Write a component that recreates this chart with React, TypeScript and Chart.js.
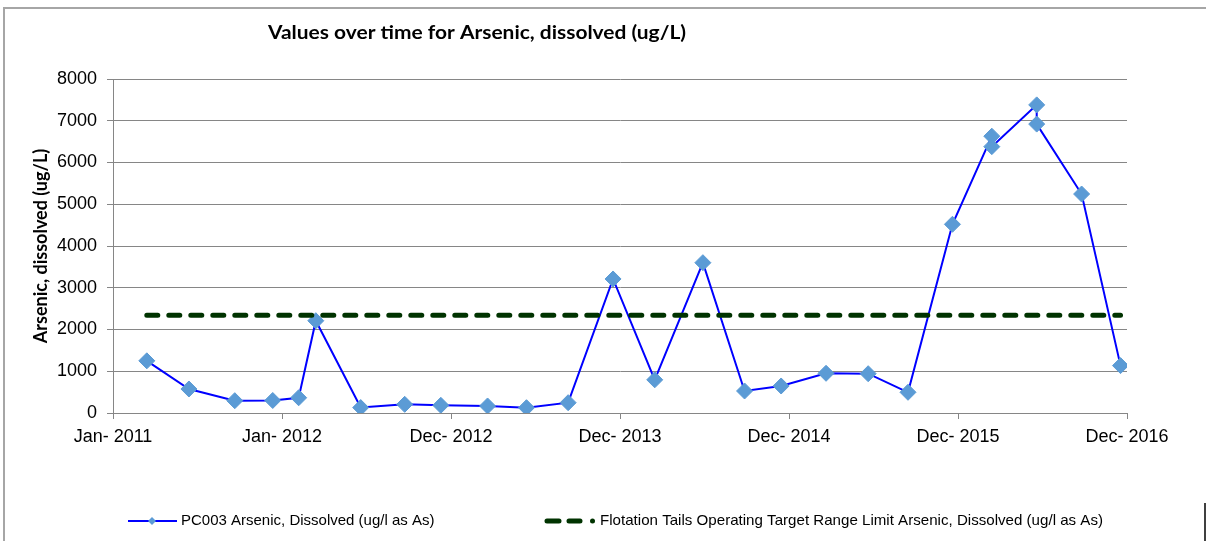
import React, { useEffect, useRef } from "react";
import { Chart, registerables } from "chart.js";

Chart.register(...registerables);

// ---- Data ----
const sampleDates = [
  "2011-03-15", "2011-06-14", "2011-09-21", "2011-12-12", "2012-02-06", "2012-03-14",
  "2012-06-19", "2012-09-22", "2012-12-09", "2013-03-20", "2013-06-12", "2013-09-10",
  "2013-12-16", "2014-03-16", "2014-06-28", "2014-09-26", "2014-12-14", "2015-03-21",
  "2015-06-20", "2015-09-14", "2015-12-19", "2016-03-13", "2016-03-13", "2016-06-18",
  "2016-06-18", "2016-09-23", "2016-12-16",
];
const arsenicValues = [
  1250, 575, 295, 300, 365, 2210, 130, 208, 184, 168, 127, 247,
  3210, 795, 3600, 527, 647, 951, 941, 496, 4520, 6630, 6380, 7380,
  6920, 5245, 1135,
];
const targetLimit = 2340;
const xTickLabels = ["Jan- 2011", "Jan- 2012", "Dec- 2012", "Dec- 2013", "Dec- 2014", "Dec- 2015", "Dec- 2016"];
const xTickStepDays = 365;
const yMin = 0;
const yMax = 8000;
const yStep = 1000;

const chartTitle = "Values over time for Arsenic, dissolved (ug/L)";
const yAxisTitle = "Arsenic, dissolved (ug/L)";
const seriesName = "PC003 Arsenic, Dissolved (ug/l as As)";
const targetName = "Flotation Tails Operating Target Range Limit Arsenic, Dissolved (ug/l as As)";

const originDate = "2011-01-01";

function dayOf(s: string): number {
  const [y, m, d] = s.split("-").map(Number);
  const [oy, om, od] = originDate.split("-").map(Number);
  return (Date.UTC(y, m - 1, d) - Date.UTC(oy, om - 1, od)) / 86400000;
}

const BLUE = "#0000FF";
const MARKER = "#5B9BD5";
const GREEN = "#003300";
const GRID = "#868686";

function drawStretched(ctx: any, text: string, x: number, y: number, targetWidth: number) {
  const w = ctx.measureText(text).width;
  ctx.save();
  ctx.translate(x, y);
  ctx.scale(targetWidth / w, 1);
  ctx.fillText(text, 0, 0);
  ctx.restore();
}

const decorPlugin = {
  id: "decor",
  beforeDraw(chart: any) {
    const ctx = chart.ctx;
    ctx.save();
    ctx.fillStyle = "#ffffff";
    ctx.fillRect(0, 0, chart.width, chart.height);
    // outer frame
    ctx.strokeStyle = "#a6a6a6";
    ctx.lineWidth = 2;
    ctx.beginPath();
    ctx.moveTo(4, chart.height);
    ctx.lineTo(4, 8);
    ctx.lineTo(chart.width, 8);
    ctx.stroke();
    ctx.strokeStyle = "#000000";
    ctx.lineWidth = 1.5;
    ctx.beginPath();
    ctx.moveTo(1205, 503);
    ctx.lineTo(1205, chart.height);
    ctx.stroke();
    ctx.restore();
  },
  afterDraw(chart: any) {
    const ctx = chart.ctx;
    ctx.save();
    // title
    ctx.fillStyle = "#000000";
    ctx.font = "bold 18px Lato";
    ctx.textAlign = "left";
    ctx.textBaseline = "middle";
    drawStretched(ctx, chartTitle, 268, 33, 418);

    // legend
    const ly = 521;
    ctx.strokeStyle = BLUE;
    ctx.lineWidth = 2;
    ctx.beginPath();
    ctx.moveTo(128, ly);
    ctx.lineTo(177, ly);
    ctx.stroke();
    ctx.fillStyle = MARKER;
    ctx.beginPath();
    ctx.moveTo(152, ly - 4);
    ctx.lineTo(156, ly);
    ctx.lineTo(152, ly + 4);
    ctx.lineTo(148, ly);
    ctx.closePath();
    ctx.fill();

    ctx.fillStyle = "#000000";
    ctx.font = "15px 'Liberation Sans', Arial, sans-serif";
    ctx.textAlign = "left";
    ctx.textBaseline = "middle";
    ctx.fillText(seriesName, 181, ly);

    ctx.strokeStyle = GREEN;
    ctx.lineWidth = 5;
    ctx.lineCap = "round";
    ctx.beginPath();
    ctx.moveTo(547, ly);
    ctx.lineTo(559, ly);
    ctx.moveTo(569, ly);
    ctx.lineTo(580, ly);
    ctx.stroke();
    ctx.fillStyle = GREEN;
    ctx.beginPath();
    ctx.arc(592.5, ly, 2.5, 0, Math.PI * 2);
    ctx.fill();

    ctx.fillStyle = "#000000";
    drawStretched(ctx, targetName, 600, ly, 503);
    ctx.restore();
  },
};

export default function App() {
  const ref = useRef<HTMLCanvasElement | null>(null);

  useEffect(() => {
    document.body.style.margin = "0";
    const canvas = ref.current;
    if (!canvas) return;
    const xs = sampleDates.map(dayOf);
    const chart = new Chart(canvas, {
      type: "line",
      data: {
        datasets: [
          {
            label: seriesName,
            data: xs.map((x, i) => ({ x, y: arsenicValues[i] })),
            borderColor: BLUE,
            borderWidth: 2,
            pointStyle: "rectRot",
            pointRadius: 8,
            pointHoverRadius: 8,
            pointBackgroundColor: MARKER,
            pointBorderColor: MARKER,
            pointBorderWidth: 1,
            tension: 0,
            fill: false,
            order: 1,
          },
          {
            label: targetName,
            data: xs.map((x) => ({ x, y: targetLimit })),
            borderColor: GREEN,
            borderWidth: 5,
            borderDash: [11, 11],
            borderCapStyle: "round",
            pointRadius: 0,
            tension: 0,
            fill: false,
            order: 0,
          },
        ],
      },
      options: {
        animation: false,
        responsive: false,
        maintainAspectRatio: false,
        events: [],
        layout: { padding: { left: 0, top: 79, right: 79, bottom: 0 } },
        plugins: {
          legend: { display: false },
          title: { display: false },
          tooltip: { enabled: false },
        },
        scales: {
          x: {
            type: "linear",
            min: 0,
            max: xTickStepDays * (xTickLabels.length - 1),
            afterFit: (s: any) => {
              s.height = 128;
            },
            ticks: {
              stepSize: xTickStepDays,
              autoSkip: false,
              maxRotation: 0,
              color: "#000000",
              font: { family: "'Liberation Sans', Arial, sans-serif", size: 18 },
              padding: 7,
              callback: (_v: any, i: number) => xTickLabels[i],
            },
            grid: {
              drawOnChartArea: false,
              drawTicks: true,
              tickLength: 6,
              color: GRID,
            },
            border: { display: true, color: GRID, width: 1 },
          },
          y: {
            min: yMin,
            max: yMax,
            afterFit: (s: any) => {
              s.width = 113;
            },
            ticks: {
              stepSize: yStep,
              color: "#000000",
              font: { family: "'Liberation Sans', Arial, sans-serif", size: 18 },
              padding: 10,
              callback: (v: any) => String(v),
            },
            grid: {
              color: GRID,
              lineWidth: 1,
              tickLength: 6,
            },
            border: { display: true, color: GRID, width: 1 },
            title: {
              display: true,
              text: yAxisTitle,
              color: "#000000",
              font: { family: "Lato", size: 18, weight: "bold" },
              padding: { top: 30, bottom: 0 },
            },
          },
        },
      },
      plugins: [decorPlugin],
    });
    return () => chart.destroy();
  }, []);

  return (
    <div style={{ position: "absolute", left: 0, top: 0, width: 1206, height: 541 }}>
      <canvas ref={ref} width={1206} height={541} style={{ display: "block", width: 1206, height: 541 }} />
    </div>
  );
}
